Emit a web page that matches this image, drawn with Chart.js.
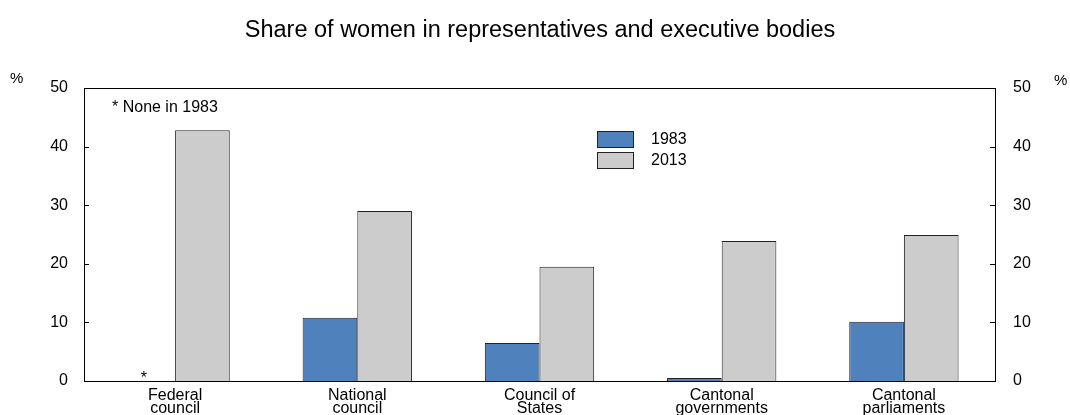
<!DOCTYPE html>
<html>
<head>
<meta charset="utf-8">
<script src="https://cdn.jsdelivr.net/npm/chart.js@4"></script>
<style>
  html, body { margin: 0; padding: 0; background: #fff; }
  #wrap { width: 1070px; height: 415px; }
</style>
</head>
<body>
<div id="wrap"><canvas id="womenChart" width="1070" height="415"></canvas></div>
<script>
const bodies = [
    ["Federal", "council"],
    ["National", "council"],
    ["Council of", "States"],
    ["Cantonal", "governments"],
    ["Cantonal", "parliaments"]
];
const share1983 = [0, 10.8, 6.5, 0.5, 10.1];
const share2013 = [42.8, 29, 19.5, 23.9, 24.9];
const yearLabels = ["1983", "2013"];
const yTicks = [0, 10, 20, 30, 40, 50];

const FONT = "'Liberation Sans', Arial, sans-serif";
const BLUE = "#4f81bd";
const GREY = "#cccccc";

// frame, inward ticks, title, legend and notes
const decorations = {
    id: "decorations",
    afterDraw(chart) {
        const ctx = chart.ctx;
        const area = chart.chartArea;
        const y = chart.scales.y;
        ctx.save();

        ctx.strokeStyle = "#000";
        ctx.lineWidth = 1;
        ctx.strokeRect(Math.round(area.left) + 0.5, Math.round(area.top) + 0.5,
            Math.round(area.right - area.left), Math.round(area.bottom - area.top));

        yTicks.forEach(v => {
            const py = Math.round(y.getPixelForValue(v)) + 0.5;
            ctx.beginPath();
            ctx.moveTo(area.left, py);
            ctx.lineTo(area.left + 5, py);
            ctx.moveTo(area.right, py);
            ctx.lineTo(area.right - 5, py);
            ctx.stroke();
        });

        ctx.fillStyle = "#000";
        ctx.font = "23.5px " + FONT;
        ctx.textAlign = "center";
        ctx.textBaseline = "middle";
        ctx.fillText("Share of women in representatives and executive bodies", 540, 31);

        ctx.font = "15px " + FONT;
        ctx.textAlign = "left";
        ctx.fillText("%", 10, 79);
        ctx.fillText("%", 1054, 81);
        ctx.font = "16px " + FONT;
        ctx.fillText("* None in 1983", 112, 108);

        // asterisk where the empty 1983 bar would stand
        const bar = chart.getDatasetMeta(0).data[0];
        ctx.textAlign = "center";
        ctx.font = "16px " + FONT;
        ctx.fillText("*", bar.x - 4, area.bottom - 2);

        // legend
        const colours = [BLUE, GREY];
        yearLabels.forEach((lab, i) => {
            const top = 131 + i * 21;
            ctx.fillStyle = colours[i];
            ctx.fillRect(597, top, 36, 16);
            ctx.strokeStyle = "#222";
            ctx.strokeRect(597.5, top + 0.5, 36, 16);
            ctx.fillStyle = "#000";
            ctx.font = "16px " + FONT;
            ctx.textAlign = "left";
            ctx.fillText(lab, 651, top + 9);
        });
        ctx.restore();
    }
};

const tickOpts = {
    color: "#000",
    font: { family: FONT, size: 16 },
    stepSize: 10,
    autoSkip: false
};

new Chart(document.getElementById("womenChart").getContext("2d"), {
    type: "bar",
    data: {
        labels: bodies,
        datasets: [
            {
                label: yearLabels[0],
                data: share1983,
                backgroundColor: BLUE,
                borderColor: "#222",
                borderWidth: ctx => ctx.raw === 0 ? 0 : 1
            },
            {
                label: yearLabels[1],
                data: share2013,
                backgroundColor: GREY,
                borderColor: "#222",
                borderWidth: 1
            }
        ]
    },
    options: {
        responsive: false,
        animation: false,
        categoryPercentage: 0.6,
        barPercentage: 1,
        layout: { padding: { top: 88, bottom: 0, left: 0, right: 0 } },
        plugins: {
            legend: { display: false },
            title: { display: false },
            tooltip: { enabled: false }
        },
        scales: {
            x: {
                grid: { display: false },
                border: { display: false },
                ticks: {
                    color: "#000",
                    font: { family: FONT, size: 16, lineHeight: 0.8 },
                    padding: 0,
                    maxRotation: 0
                },
                afterFit(scale) { scale.height = 34; }
            },
            y: {
                position: "left",
                min: 0,
                max: 50,
                grid: { display: false },
                border: { display: false },
                ticks: { ...tickOpts, padding: 8 },
                afterFit(scale) { scale.width = 84; }
            },
            y2: {
                position: "right",
                min: 0,
                max: 50,
                grid: { display: false },
                border: { display: false },
                ticks: { ...tickOpts, padding: 10 },
                afterFit(scale) { scale.width = 75; }
            }
        }
    },
    plugins: [decorations]
});
</script>
</body>
</html>
